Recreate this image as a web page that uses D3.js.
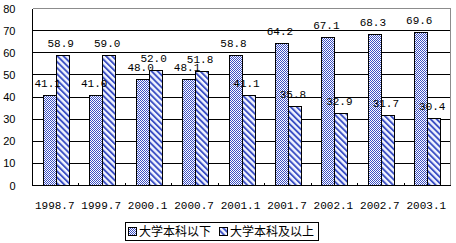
<!DOCTYPE html>
<meta charset="utf-8">
<head>
    <title>学历构成</title>
    <style>
        html, body { margin: 0; padding: 0; background: #fff; }
        svg { display: block; }
        .num { font-family: "Liberation Mono", "DejaVu Sans Mono", monospace; font-size: 11px; fill: #000; }
        .ytick { font-family: "Liberation Sans", Arial, sans-serif; font-size: 11px; fill: #000; }
        .legend text { font-family: "Noto Sans CJK SC", sans-serif; font-size: 12px; fill: #000; }
        .bar { stroke: #000; stroke-width: 1; shape-rendering: crispEdges; }
        .grid line { stroke: #000; shape-rendering: crispEdges; }
    </style>
</head>
<body>
<svg width="456" height="243"></svg>
<script src="https://cdn.jsdelivr.net/npm/d3@7"></script>
<script>
    let categories = ["1998.7", "1999.7", "2000.1", "2000.7", "2001.1", "2001.7", "2002.1", "2002.7", "2003.1"];
    let belowBachelor = [41.1, 41.0, 48.0, 48.1, 58.8, 64.2, 67.1, 68.3, 69.6];
    let bachelorAbove = [58.9, 59.0, 52.0, 51.8, 41.1, 35.8, 32.9, 31.7, 30.4];
    let seriesNames = ["大学本科以下", "大学本科及以上"];
    let yTicks = [0, 10, 20, 30, 40, 50, 60, 70, 80];

    let svg = d3.select('svg');
    let plotL = 32.5, plotR = 450.5, plotT = 8.5, plotB = 185.5;

    let x = d3.scaleBand().domain(categories).range([plotL, plotR]);
    let y = d3.scaleLinear().domain([0, 80]).range([plotB, plotT]);
    let barW = 13;
    let x1 = d3.scaleBand().domain([0, 1]).range([0, barW * 2]);
    let offset = (x.bandwidth() - barW * 2) / 2;

    // fill patterns
    let defs = svg.append('defs');
    let chk = defs.append('pattern').attr('id', 'chk')
        .attr('width', 2).attr('height', 2).attr('patternUnits', 'userSpaceOnUse');
    chk.append('rect').attr('width', 2).attr('height', 2).attr('fill', '#fff');
    chk.append('rect').attr('width', 1).attr('height', 1).attr('fill', '#3c50c4');
    chk.append('rect').attr('x', 1).attr('y', 1).attr('width', 1).attr('height', 1).attr('fill', '#3c50c4');

    let str = defs.append('pattern').attr('id', 'str')
        .attr('width', 4.3).attr('height', 10).attr('patternUnits', 'userSpaceOnUse')
        .attr('patternTransform', 'rotate(-45)');
    str.append('rect').attr('width', 4.3).attr('height', 10).attr('fill', '#f2f5ff');
    str.append('rect').attr('width', 1.9).attr('height', 10).attr('fill', '#3c50c4');

    let fills = ['url(#chk)', 'url(#str)'];

    // gridlines
    svg.append('g').attr('class', 'grid')
        .selectAll('line')
        .data(yTicks.slice(1, -1))
        .enter().append('line')
        .attr('x1', plotL).attr('x2', plotR)
        .attr('y1', d => y(d)).attr('y2', d => y(d));

    // frame: top and right grey
    svg.append('path')
        .attr('d', `M${plotL},${plotT}H${plotR}V${plotB}`)
        .attr('fill', 'none').attr('stroke', '#8c8c8c')
        .style('shape-rendering', 'crispEdges');

    let series = [belowBachelor, bachelorAbove];

    // bars
    series.forEach((vals, s) => {
        svg.append('g').selectAll('rect')
            .data(vals)
            .enter().append('rect')
            .attr('class', 'bar')
            .attr('x', (d, i) => Math.round(x(categories[i]) + offset + x1(s)) + 0.5)
            .attr('y', d => Math.round(y(d)) + 0.5)
            .attr('width', barW)
            .attr('height', d => plotB - (Math.round(y(d)) + 0.5))
            .attr('fill', fills[s]);
    });

    // axes
    let xAxis = svg.append('g').attr('transform', `translate(0,${plotB})`)
        .call(d3.axisBottom(x).tickSize(0).tickPadding(16));
    xAxis.select('.domain').remove();
    xAxis.selectAll('text').attr('class', 'num').attr('dx', -1);
    xAxis.attr('font-family', null).attr('font-size', null);

    svg.append('g').selectAll('line')
        .data(categories.slice(1))
        .enter().append('line')
        .attr('x1', d => x(d)).attr('x2', d => x(d))
        .attr('y1', plotB).attr('y2', plotB - 3)
        .attr('stroke', '#000').style('shape-rendering', 'crispEdges');

    svg.append('path')
        .attr('d', `M${plotL},${plotT}V${plotB}H${plotR}`)
        .attr('fill', 'none').attr('stroke', '#000')
        .style('shape-rendering', 'crispEdges');

    let yAxis = svg.append('g').attr('transform', `translate(${plotL},0)`)
        .call(d3.axisLeft(y).tickValues(yTicks).tickSize(0).tickPadding(17));
    yAxis.select('.domain').remove();
    yAxis.selectAll('text').attr('class', 'ytick');
    yAxis.attr('font-family', null).attr('font-size', null);

    // value labels, on top of all bars
    series.forEach((vals, s) => {
        svg.append('g').selectAll('text')
            .data(vals)
            .enter().append('text')
            .attr('class', 'num')
            .attr('text-anchor', 'middle')
            .attr('x', (d, i) => x(categories[i]) + offset + x1(s) + barW / 2 - 1.5)
            .attr('y', d => y(d) - 8)
            .text(d => d.toFixed(1));
    });

    // legend
    let lg = svg.append('g').attr('class', 'legend');
    lg.append('rect').attr('x', 125.5).attr('y', 222.5).attr('width', 193).attr('height', 18)
        .attr('fill', '#fff').attr('stroke', '#000').style('shape-rendering', 'crispEdges');
    let itemX = [128.5, 219.5];
    seriesNames.forEach((name, s) => {
        lg.append('rect').attr('x', itemX[s]).attr('y', 227.5).attr('width', 8).attr('height', 8)
            .attr('fill', fills[s]).attr('stroke', '#000').style('shape-rendering', 'crispEdges');
        lg.append('text').attr('x', itemX[s] + 10.5).attr('y', 236).text(name);
    });
</script>
</body>
</html>
